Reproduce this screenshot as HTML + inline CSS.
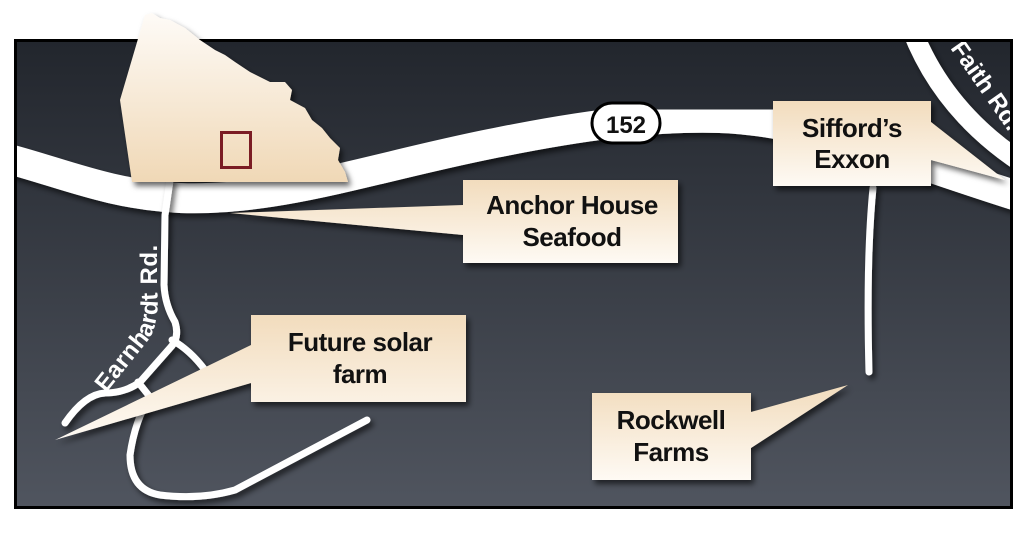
<!DOCTYPE html>
<html><head><meta charset="utf-8"><style>
html,body{margin:0;padding:0;background:#fff;width:1024px;height:549px;overflow:hidden}
text{font-family:"Liberation Sans",sans-serif;font-weight:bold}
</style></head><body>
<svg width="1024" height="549" viewBox="0 0 1024 549" xmlns="http://www.w3.org/2000/svg">
<defs>
<linearGradient id="bg" x1="0" y1="0" x2="0" y2="1"><stop offset="0" stop-color="#22262d"/><stop offset="1" stop-color="#50555f"/></linearGradient>
<linearGradient id="cr" x1="0" y1="0" x2="0" y2="1"><stop offset="0" stop-color="#f2dcbd"/><stop offset="1" stop-color="#fefaf4"/></linearGradient>
<linearGradient id="cty" x1="0" y1="0" x2="0" y2="1"><stop offset="0" stop-color="#fefbf7"/><stop offset="1" stop-color="#f0d8b6"/></linearGradient>
<filter id="sh" x="-10%" y="-10%" width="130%" height="140%"><feDropShadow dx="3" dy="4" stdDeviation="3" flood-color="#000" flood-opacity="0.6"/></filter>
<clipPath id="mc"><rect x="17" y="42" width="993" height="464"/></clipPath>
</defs>
<rect x="15.5" y="40.5" width="996" height="467" fill="url(#bg)" stroke="#000" stroke-width="3"/>
<g clip-path="url(#mc)">
<!-- Faith Rd -->
<path d="M 912 30 Q 945 115 1030 168" fill="none" stroke="#fff" stroke-width="20" filter="url(#sh)"/>
<text transform="translate(950,48) rotate(55)" font-size="24" fill="#fff">Faith Rd.</text>
<!-- highway 152 -->
<path d="M 5 158 C 60 172 110 195 180 198 C 280 202 380 165 500 142 C 580 126 650 116 720 118 C 820 122 900 160 1030 200" fill="none" stroke="#fff" stroke-width="30" filter="url(#sh)"/>
<!-- small roads -->
<g fill="none" stroke="#fff" stroke-width="7" stroke-linecap="round" stroke-linejoin="round" filter="url(#sh)">
<path d="M 170 180 L 165 215 L 164 285 Q 165 305 175 322 Q 180 338 170 348 L 140 382 Q 125 393 105 393 Q 85 394 65 423"/>
<path d="M 172 340 Q 190 350 205 370"/>
<path d="M 138 382 L 150 397 Q 135 420 130 455 Q 130 490 160 495 Q 200 500 235 490 L 367 420"/>
<path d="M 873 188 Q 866 260 869 372"/>
</g>
<!-- shield -->
<rect x="592" y="103" width="68" height="40" rx="20" fill="#fff" stroke="#000" stroke-width="3"/>
<text x="626" y="133" font-size="24" text-anchor="middle" fill="#111">152</text>
<!-- callouts -->
<g filter="url(#sh)" fill="url(#cr)">
<path d="M 463 180 L 678 180 L 678 263 L 463 263 L 463 235 L 230 213 L 463 205 Z"/>
<path d="M 251 315 L 466 315 L 466 402 L 251 402 L 251 383 L 55 440 L 251 345 Z"/>
<path d="M 773 101 L 931 101 L 931 122 L 1005 180 L 931 160 L 931 186 L 773 186 Z"/>
<path d="M 592 393 L 751 393 L 751 412 L 848 385 L 751 448 L 751 480 L 592 480 Z"/>
</g>
<g font-size="26" fill="#111" text-anchor="middle" letter-spacing="-0.5">
<text x="572" y="214">Anchor House</text><text x="572" y="246">Seafood</text>
<text x="360" y="351">Future solar</text><text x="360" y="383">farm</text>
<text x="852" y="137">Sifford’s</text><text x="852" y="168">Exxon</text>
<text x="671" y="429">Rockwell</text><text x="671" y="461">Farms</text>
</g>
<path id="ep" d="M 106 393 L 150 338 Q 160 318 157 290 L 157 215" fill="none"/>
<text font-size="24" fill="#fff" letter-spacing="0.5"><textPath href="#ep">Earnhardt  Rd.</textPath></text>
</g>
<!-- county (extends above frame) -->
<path d="M 120 100 L 145 15 L 152 13 L 160 18 L 170 20 L 185 28 L 200 40 L 215 50 L 225 55 L 235 62 L 250 72 L 262 78 L 270 82 L 285 82 L 292 90 L 290 100 L 305 108 L 312 120 L 322 128 L 330 138 L 340 148 L 338 160 L 345 172 L 348 182 L 132 182 Z" fill="url(#cty)" filter="url(#sh)"/>
<rect x="221.5" y="132.5" width="29" height="35" fill="none" stroke="#7b1c24" stroke-width="3"/>
</svg>
</body></html>
